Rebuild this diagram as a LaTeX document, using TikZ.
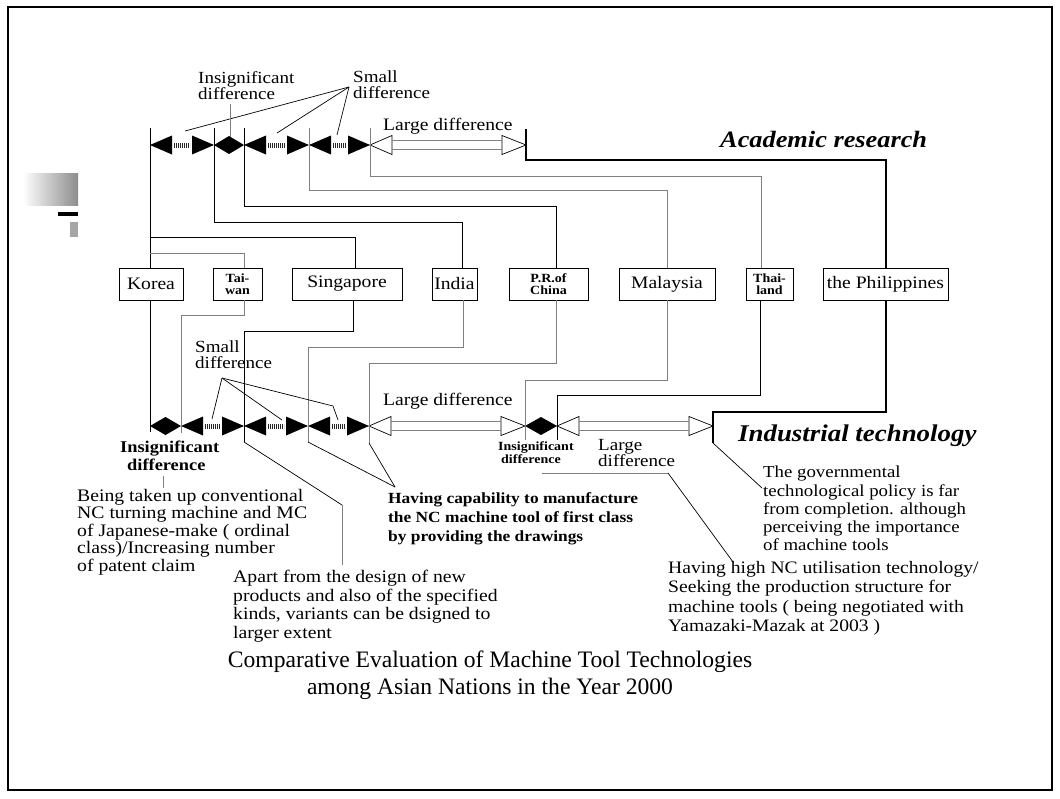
\documentclass[tikz,border=0pt]{standalone}
\usepackage{fontspec}
\setmainfont{Liberation Serif}[FakeStretch=1.12]
\newfontfamily\titlefont{Liberation Serif}
\newcommand\myfs[2]{\fontsize{#1}{#2}\selectfont}
\newcommand\myfpair[3]{%
  \fill ({#1},{#3}) -- ++(22,-9.5) -- ++(0,19) -- cycle;
  \fill ({#2},{#3}) -- ++(-22,-9.5) -- ++(0,19) -- cycle;
  \draw[hatchbar] ({#1+24},{#3}) -- ({#2-24},{#3});}
\newcommand\mydiam[3]{%
  \fill ({#1},{#3}) -- ({(#1+#2)/2},{#3-9}) -- ({#2},{#3}) -- ({(#1+#2)/2},{#3+9}) -- cycle;}
\newcommand\myopair[3]{%
  \draw[openarr] ({#1},{#3}) -- ++(22,-9.5) -- ++(0,19) -- cycle;
  \draw[openarr] ({#2},{#3}) -- ++(-24,-9.5) -- ++(0,19) -- cycle;
  \draw[dline] ({#1+22},{#3-4.5}) -- ({#2-24},{#3-4.5});
  \draw[dline] ({#1+22},{#3+4.5}) -- ({#2-24},{#3+4.5});}
\begin{document}
\begin{tikzpicture}[x=1pt,y=-1pt,
  conn/.style={line width=0.9pt, black},
  gconn/.style={line width=0.9pt, black!50},
  pconn/.style={line width=2pt, black},
  ptr/.style={line width=0.7pt, black},
  gptr/.style={line width=0.8pt, black!50},
  hatchbar/.style={line width=5pt, black!85, dash pattern=on 1.1pt off 0.9pt},
  openarr/.style={line width=0.7pt, black},
  dline/.style={line width=0.8pt, black!50},
  cbox/.style={draw, line width=0.8pt, inner sep=0pt, minimum height=32pt, align=center, font=\myfs{17.5}{18}},
  sbox/.style={cbox, font=\bfseries\myfs{12.5}{12}},
  lbl/.style={inner sep=0pt, anchor=north west, align=left},
]
\useasboundingbox (0,0) rectangle (1060,798);
\fill[white] (0,0) rectangle (1060,798);
\draw[line width=2pt] (8,7) rectangle (1052,790);

% left decoration
\shade[left color=white, right color=black!45] (23,173) rectangle (78,205);
\fill[black] (58,212) rectangle (78,216);
\fill[black!35] (70,222) rectangle (78,237);

% country boxes
\node[cbox, minimum width=64pt] (korea) at (151,284) {Korea};
\node[sbox, minimum width=49pt] (taiwan) at (237.5,284) {Tai-\\wan};
\node[cbox, minimum width=110pt] (singapore) at (347,284) {Singapore};
\node[cbox, minimum width=45pt] (india) at (454.5,284) {India};
\node[sbox, minimum width=79pt] (china) at (548.5,284) {P.R.of\\China};
\node[cbox, minimum width=96pt] (malaysia) at (667,284) {Malaysia};
\node[sbox, minimum width=47pt] (thailand) at (769.5,284) {Thai-\\land};
\node[cbox, minimum width=125pt] (phil) at (885.5,284) {the Philippines};

% top axis arrows
\myfpair{150}{214}{145}
\mydiam{214}{244}{145}
\myfpair{244}{309}{145}
\myfpair{309}{370}{145}
\myopair{370}{526}{145}

% bottom axis arrows
\mydiam{150}{181}{426}
\myfpair{181}{244}{426}
\myfpair{244}{308}{426}
\myfpair{308}{369}{426}
\myopair{369}{525}{426}
\mydiam{525}{557}{426}
\myopair{557}{713}{426}

% top ticks
\coordinate (ta1) at (150,128);
\coordinate (ta2) at (214,128);
\coordinate (ta3) at (244,128);
\coordinate (ta4) at (309,128);
\coordinate (ta5) at (370,128);
\coordinate (ta6) at (526,129);
% top junctions
\coordinate (jsg) at (355,237);
\coordinate (jtw) at (244,253);
\coordinate (jin) at (462,222);
\coordinate (jcn) at (556,206);
\coordinate (jmy) at (667,190);
\coordinate (jth) at (761,176);
\coordinate (jph) at (886,160);

\draw[conn] (ta1) -- (korea.north -| ta1);
\draw[conn] (ta1 |- jsg) -- (jsg) -- (jsg |- singapore.north);
\draw[gconn] (ta1 |- jtw) -- (jtw) -- (jtw |- taiwan.north);
\draw[conn] (ta2) |- (jin) -- (jin |- india.north);
\draw[conn] (ta3) |- (jcn) -- (jcn |- china.north);
\draw[gconn] (ta4) |- (jmy) -- (jmy |- malaysia.north);
\draw[gconn] (ta5) |- (jth) -- (jth |- thailand.north);
\draw[pconn] (ta6) |- (jph) -- (jph |- phil.north);

% bottom ticks
\coordinate (tb1) at (150,432);
\coordinate (tb2) at (181,433);
\coordinate (tb3) at (244,442);
\coordinate (tb4) at (308,442);
\coordinate (tb5) at (369,443);
\coordinate (tb6) at (525,440);
\coordinate (tb7) at (557,440);
\coordinate (tb8) at (713,443);
% bottom junctions
\coordinate (ktw) at (244,315);
\coordinate (ksg) at (353,331);
\coordinate (kin) at (463,347);
\coordinate (kcn) at (556,363);
\coordinate (kmy) at (667,380);
\coordinate (kth) at (760,395);
\coordinate (kph) at (886,412);

\draw[conn] (korea.south -| tb1) -- (tb1);
\draw[gconn] (ktw |- taiwan.south) -- (ktw) -| (tb2);
\draw[conn] (ksg |- singapore.south) -- (ksg) -| (tb3);
\draw[gconn] (kin |- india.south) -- (kin) -| (tb4);
\draw[gconn] (kcn |- china.south) -- (kcn) -| (tb5);
\draw[gconn] (kmy |- malaysia.south) -- (kmy) -| (tb6);
\draw[conn] (kth |- thailand.south) -- (kth) -| (tb7);
\draw[pconn] (kph |- phil.south) -- (kph) -| (tb8);

% top labels
\node[lbl, font=\myfs{17}{16}] (tinsig) at (198,71) {Insignificant\\difference};
\node[lbl, font=\myfs{17}{16}] (tsmall) at (353,71) {Small\\difference};
\node[lbl, font=\myfs{17.5}{17}] (tlarge) at (383,118) {Large difference};
\node[lbl, font=\bfseries\itshape\myfs{23.5}{24}] (acad) at (720,131) {Academic research};

\coordinate (tsp) at (349,87);
\draw[ptr] (tsp) -- (185,131);
\draw[ptr] (tsp) -- (277,133);
\draw[ptr] (tsp) -- (337,135);
\draw[gptr] (230,104) -- (230,137);

% bottom labels
\node[lbl, font=\myfs{17}{16.5}] (bsmall) at (195,340) {Small\\difference};
\node[lbl, font=\myfs{17.5}{17}] (blarge) at (383,393) {Large difference};
\node[lbl, font=\bfseries\myfs{16.4}{17.5}] (binsig) at (120,441) {Insignificant\\\hspace*{7pt}difference};
\node[lbl, font=\bfseries\myfs{12.5}{13}] (binsig2) at (498,441) {Insignificant\\\hspace*{3pt}difference};
\node[lbl, font=\myfs{17}{15}] (blarge2) at (598,439) {Large\\difference};
\node[lbl, font=\bfseries\itshape\myfs{24}{25}] (indus) at (738,425) {Industrial technology};

\coordinate (bsp) at (222,378);
\draw[ptr] (bsp) -- (212,419);
\draw[ptr] (bsp) -- (282,420);
\draw[ptr] (bsp) -- (333,406) -- (338,420);

% descriptive texts
\node[lbl, font=\myfs{17.6}{17.5}] (t1) at (77,489) {Being taken up conventional\\NC turning machine and MC\\of Japanese-make ( ordinal\\class)/Increasing number\\of patent claim};
\node[lbl, font=\myfs{17.6}{18.5}] (t2) at (233,570) {Apart from the design of new\\products and also of the specified\\kinds, variants can be dsigned to\\larger extent};
\node[lbl, font=\bfseries\myfs{15.5}{19}] (t3) at (388,492) {Having capability to manufacture\\the NC machine tool of first class\\by providing the drawings};
\node[lbl, font=\myfs{16.8}{18.2}] (t4) at (763,466) {The governmental\\technological policy is far\\from completion. although\\perceiving the importance\\of machine tools};
\node[lbl, font=\myfs{17.5}{19.5}] (t5) at (668,561) {Having high NC utilisation technology/\\Seeking the production structure for\\machine tools ( being negotiated with\\Yamazaki-Mazak at 2003 )};

% pointers
\draw[gptr] (163,476) -- (163,488);
\coordinate (pap) at (342,505);
\draw[ptr] (tb3) -- (pap);
\draw[gptr] (pap) -- (342,565);
\coordinate (phv) at (395,487);
\draw[ptr] (tb4) -- (phv);
\draw[ptr] (tb5) -- (phv);
\draw[ptr] (tb8) -- (762,488);
\coordinate (pld) at (668,473);
\draw[gptr] (542,473) -- (pld);
\draw[ptr] (pld) -- (733,562);

% title
\node[inner sep=0pt, align=center, font=\titlefont\myfs{23.6}{27}, anchor=north] (title) at (490,651) {Comparative Evaluation of Machine Tool Technologies\\among Asian Nations in the Year 2000};
\end{tikzpicture}
\end{document}
